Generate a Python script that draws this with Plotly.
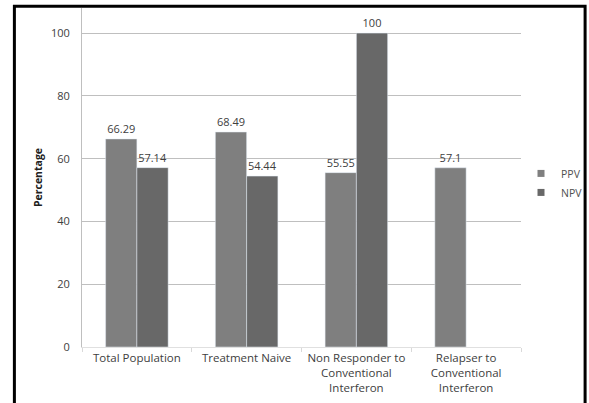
import plotly.graph_objects as go

categories = ["Total Population", "Treatment Naive",
              "Non Responder to<br>Conventional<br>Interferon",
              "Relapser to<br>Conventional<br>Interferon"]
ppv = [66.29, 68.49, 55.55, 57.1]
npv = [57.14, 54.44, 100, None]
ppv_labels = ["66.29", "68.49", "55.55", "57.1"]
npv_labels = ["57.14", "54.44", "100", ""]
y_ticks = [0, 20, 40, 60, 80, 100]
series_names = ["PPV", "NPV"]
series_colors = ["#7f7f7f", "#686868"]

FONT = "Open Sans"

fig = go.Figure()
for name, vals, labels, color in zip(series_names, [ppv, npv], [ppv_labels, npv_labels], series_colors):
    fig.add_trace(go.Bar(name=name, x=categories, y=vals, text=labels,
                         textposition="outside", marker_color=color,
                         textfont=dict(color="#404040", size=11, family=FONT),
                         cliponaxis=False, showlegend=False))
# legend entries with small square swatches
for name, color in zip(series_names, series_colors):
    fig.add_trace(go.Scatter(name=name, x=[None], y=[None], mode="markers",
                             marker=dict(symbol="square", size=7, color=color)))

fig.update_layout(
    width=589, height=403,
    margin=dict(l=82, r=68, t=8, b=56, autoexpand=False),
    paper_bgcolor="white", plot_bgcolor="white",
    barmode="group", bargap=0.43, bargroupgap=0,
    font=dict(family=FONT, size=11, color="#404040"),
    showlegend=True,
    legend=dict(x=1.0, y=0.484, xanchor="left", yanchor="middle",
                font=dict(size=10.5, color="#505050"),
                bgcolor="rgba(0,0,0,0)"),
    xaxis=dict(showgrid=False, showline=True, linecolor="#e0e0e0",
               ticks="outside", tickson="boundaries", tickcolor="#d9d9d9",
               ticklen=4, automargin=False,
               tickfont=dict(size=11.5, color="#404040")),
    yaxis=dict(range=[0, 108], tickvals=y_ticks, showgrid=True,
               gridcolor="#bfbfbf", showline=True, linecolor="#bfbfbf",
               zeroline=False, ticks="", ticklen=0, automargin=False,
               ticklabelstandoff=9,
               tickfont=dict(size=11, color="#404040"),
               title=dict(text="<b>Percentage</b>", font=dict(size=10.5, color="#202020"),
                          standoff=6)),
    shapes=[dict(type="rect", xref="paper", yref="paper",
                 x0=-0.154, x1=1.146, y0=-0.25, y1=1.005,
                 line=dict(color="black", width=3), fillcolor="rgba(0,0,0,0)")],
)

fig.write_html("out.html", config={"displayModeBar": False},
               post_script="document.body.style.margin='0';")
